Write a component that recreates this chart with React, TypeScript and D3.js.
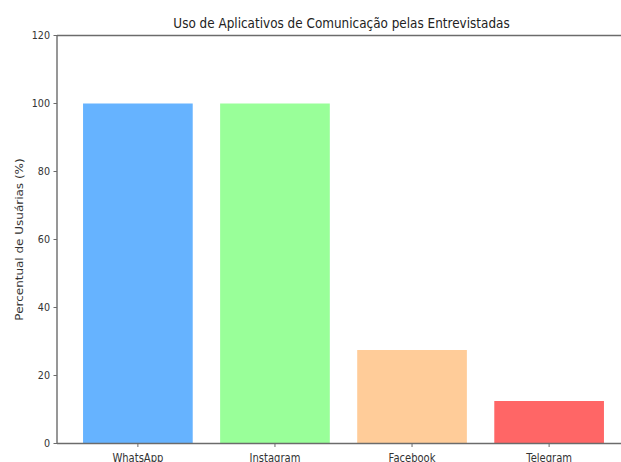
import React, { useEffect, useRef } from 'react';
import * as d3 from 'd3';

const apps = ['WhatsApp', 'Instagram', 'Facebook', 'Telegram'];
const percentages = [100, 100, 27.5, 12.5];
const barColors = ['#66b3ff', '#99ff99', '#ffcc99', '#ff6666'];
const yTicks = [0, 20, 40, 60, 80, 100, 120];

const App: React.FC = () => {
  const svgRef = useRef<SVGSVGElement>(null);

  const width = 621;
  const height = 462;
  const left = 57;
  const right = 630;
  const top = 35.5;
  const bottom = 443.5;

  useEffect(() => {
    if (!svgRef.current) return;
    const svg = d3.select(svgRef.current);
    svg.selectAll('*').remove();

    const font = 'DejaVu Sans, sans-serif';
    const sx = 0.87; // the picture's text is a bit narrow

    // matplotlib-like x range: bars of width 0.8 with 5% margins
    const x = d3.scaleLinear().domain([-0.59, apps.length - 1 + 0.59]).range([left, right]);
    const y = d3.scaleLinear().domain([0, 120]).range([bottom, top]);
    const barW = x(0.4) - x(-0.4);

    svg.append('rect').attr('width', width).attr('height', height).attr('fill', '#fff');

    // bars
    svg.selectAll('.bar')
      .data(percentages)
      .enter()
      .append('rect')
      .attr('class', 'bar')
      .attr('x', (_, i) => x(i) - barW / 2)
      .attr('y', d => y(d))
      .attr('width', barW)
      .attr('height', d => y(0) - y(d))
      .attr('fill', (_, i) => barColors[i]);

    // spines
    const spineColor = '#6b6b6b';
    const spine = (x1: number, y1: number, x2: number, y2: number) =>
      svg.append('line').attr('x1', x1).attr('y1', y1).attr('x2', x2).attr('y2', y2)
        .attr('stroke', spineColor).attr('stroke-width', 1.4);
    spine(left, top, left, bottom);
    spine(left, bottom, right, bottom);
    spine(left, top, right, top);
    spine(right, top, right, bottom);

    // y ticks
    const yt = svg.append('g');
    yTicks.forEach(t => {
      yt.append('line').attr('x1', left - 3.5).attr('x2', left).attr('y1', y(t)).attr('y2', y(t))
        .attr('stroke', spineColor).attr('stroke-width', 1);
      yt.append('text')
        .attr('transform', `translate(${left - 7}, ${y(t)}) scale(${sx}, 1)`)
        .attr('dy', '0.36em')
        .attr('text-anchor', 'end').attr('font-family', font).attr('font-size', 11)
        .attr('fill', '#333').text(t);
    });

    // x ticks
    const xt = svg.append('g');
    apps.forEach((a, i) => {
      xt.append('line').attr('x1', x(i)).attr('x2', x(i)).attr('y1', bottom).attr('y2', bottom + 3.5)
        .attr('stroke', spineColor).attr('stroke-width', 1);
      xt.append('text')
        .attr('transform', `translate(${x(i)}, ${bottom + 18}) scale(${sx}, 1)`)
        .attr('text-anchor', 'middle').attr('font-family', font).attr('font-size', 11.5)
        .attr('fill', '#333').text(a);
    });

    // title
    svg.append('text')
      .attr('transform', `translate(${(left + right) / 2 - 2}, 27.5) scale(0.86, 1)`)
      .attr('text-anchor', 'middle').attr('font-family', font).attr('font-size', 14)
      .attr('fill', '#222').text('Uso de Aplicativos de Comunicação pelas Entrevistadas');

    // y label
    svg.append('text')
      .attr('transform', `translate(22.5, ${(top + bottom) / 2}) rotate(-90) scale(1, ${sx})`)
      .attr('text-anchor', 'middle').attr('font-family', font).attr('font-size', 12)
      .attr('fill', '#333').text('Percentual de Usuárias (%)');
  }, []);

  return (
    <svg
      ref={svgRef}
      width={width}
      height={height}
      style={{ position: 'absolute', left: 0, top: 0, display: 'block' }}
    />
  );
};

export default App;
